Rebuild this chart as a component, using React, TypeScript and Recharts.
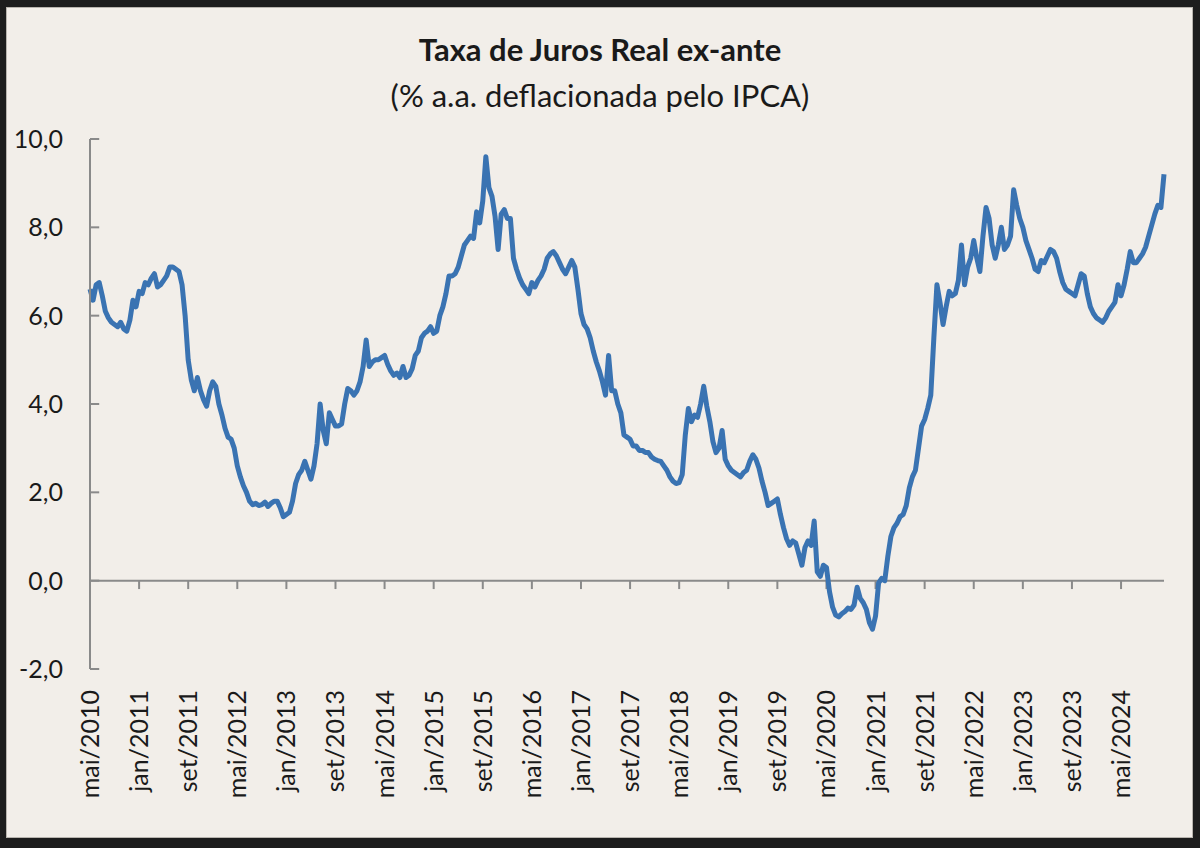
import { Line, LineChart, ReferenceLine, XAxis, YAxis } from "recharts";

// Ticks every 8 months starting in May 2010 (x = months since mai/2010)
const tickLabels = [
  "mai/2010", "jan/2011", "set/2011", "mai/2012", "jan/2013", "set/2013",
  "mai/2014", "jan/2015", "set/2015", "mai/2016", "jan/2017", "set/2017",
  "mai/2018", "jan/2019", "set/2019", "mai/2020", "jan/2021", "set/2021",
  "mai/2022", "jan/2023", "set/2023", "mai/2024",
];
const tickMonths = tickLabels.map((_, i) => i * 8);
const yTicks = [-2, 0, 2, 4, 6, 8, 10];

// Real ex-ante rate, % a.a., two readings per month
const rate2010 = [6.6, 6.35, 6.7, 6.75, 6.45, 6.1, 5.95, 5.85, 5.8, 5.75, 5.85, 5.7, 5.65, 5.9, 6.35, 6.2];
const rate2011 = [6.55, 6.5, 6.75, 6.7, 6.85, 6.95, 6.65, 6.7, 6.8, 6.9, 7.1, 7.1, 7.05, 7.0, 6.7, 6.0, 5.0, 4.55, 4.3, 4.6, 4.3, 4.1, 3.95, 4.3];
const rate2012 = [4.5, 4.4, 4.0, 3.75, 3.45, 3.25, 3.2, 3.0, 2.6, 2.35, 2.15, 2.0, 1.8, 1.72, 1.75, 1.7, 1.72, 1.78, 1.68, 1.75, 1.8, 1.8, 1.65, 1.45];
const rate2013 = [1.5, 1.55, 1.8, 2.2, 2.4, 2.5, 2.7, 2.5, 2.3, 2.6, 3.1, 4.0, 3.4, 3.1, 3.8, 3.65, 3.5, 3.5, 3.55, 4.0, 4.35, 4.3, 4.2, 4.3];
const rate2014 = [4.5, 4.85, 5.45, 4.85, 4.95, 5.0, 5.0, 5.05, 5.1, 4.9, 4.75, 4.65, 4.7, 4.6, 4.85, 4.6, 4.65, 4.8, 5.1, 5.2, 5.5, 5.6, 5.65, 5.75];
const rate2015 = [5.6, 5.65, 6.0, 6.2, 6.5, 6.9, 6.9, 6.95, 7.1, 7.35, 7.6, 7.7, 7.8, 7.75, 8.35, 8.1, 8.6, 9.6, 8.9, 8.7, 8.25, 7.5, 8.3, 8.4];
const rate2016 = [8.2, 8.2, 7.3, 7.05, 6.85, 6.7, 6.6, 6.5, 6.75, 6.65, 6.8, 6.9, 7.05, 7.3, 7.4, 7.45, 7.35, 7.2, 7.05, 6.95, 7.1, 7.25, 7.1, 6.6];
const rate2017 = [6.05, 5.8, 5.7, 5.5, 5.2, 4.95, 4.75, 4.5, 4.2, 5.1, 4.3, 4.3, 4.0, 3.8, 3.3, 3.25, 3.2, 3.05, 3.05, 2.95, 2.95, 2.9, 2.9, 2.8];
const rate2018 = [2.75, 2.72, 2.7, 2.6, 2.5, 2.35, 2.25, 2.2, 2.22, 2.4, 3.3, 3.9, 3.6, 3.75, 3.7, 4.0, 4.4, 3.95, 3.6, 3.15, 2.9, 3.0, 3.4, 2.75];
const rate2019 = [2.6, 2.5, 2.45, 2.4, 2.35, 2.45, 2.5, 2.7, 2.85, 2.75, 2.55, 2.25, 2.0, 1.7, 1.75, 1.8, 1.85, 1.5, 1.2, 0.95, 0.8, 0.9, 0.85, 0.6];
const rate2020 = [0.35, 0.75, 0.9, 0.8, 1.35, 0.2, 0.1, 0.35, 0.3, -0.25, -0.6, -0.78, -0.82, -0.75, -0.7, -0.62, -0.65, -0.55, -0.15, -0.4, -0.5, -0.65, -0.95, -1.1];
const rate2021 = [-0.8, -0.05, 0.05, 0.0, 0.55, 1.0, 1.2, 1.3, 1.45, 1.5, 1.7, 2.1, 2.35, 2.5, 3.0, 3.5, 3.65, 3.9, 4.2, 5.5, 6.7, 6.3, 5.8, 6.2];
const rate2022 = [6.55, 6.45, 6.5, 6.8, 7.6, 6.7, 7.1, 7.3, 7.7, 7.3, 7.0, 7.8, 8.45, 8.2, 7.6, 7.3, 7.6, 8.0, 7.5, 7.6, 7.8, 8.85, 8.5, 8.2];
const rate2023 = [8.0, 7.7, 7.5, 7.3, 7.05, 7.0, 7.25, 7.2, 7.35, 7.5, 7.45, 7.3, 7.0, 6.75, 6.6, 6.55, 6.5, 6.45, 6.7, 6.95, 6.9, 6.5, 6.2, 6.05];
const rate2024 = [5.95, 5.9, 5.85, 5.95, 6.1, 6.2, 6.3, 6.7, 6.45, 6.7, 7.05, 7.45, 7.2, 7.2, 7.3, 7.4, 7.55, 7.8, 8.05, 8.3, 8.5, 8.45, 9.2];

const data = [
  rate2010, rate2011, rate2012, rate2013, rate2014, rate2015, rate2016, rate2017,
  rate2018, rate2019, rate2020, rate2021, rate2022, rate2023, rate2024,
]
  .flat()
  .map((taxa, k) => ({ m: k / 2, taxa }));

const FONT = "Lato, 'Open Sans', sans-serif";
const AXIS = "#8a8a8a";
const INK = "#1a1a1a";

function MonthTick({ x, y, payload }: any) {
  const label = tickLabels[Math.round(payload.value / 8)];
  return (
    <text
      x={x}
      y={y}
      transform={`rotate(-90, ${x}, ${y})`}
      textAnchor="end"
      dy="0.36em"
      fontSize={25}
      fontFamily={FONT}
      fill={INK}
    >
      {label}
    </text>
  );
}

export default function App() {
  return (
    <div style={{ position: "absolute", left: 0, top: 0, width: 1200, height: 848, background: "#1d1d1d" }}>
      <div
        style={{
          position: "absolute",
          left: 6,
          top: 7,
          width: 1185,
          height: 829,
          background: "#F2EEE9",
          border: "1px solid #b8b4ae",
        }}
      />
      <div
        style={{
          position: "absolute",
          left: 0,
          width: 1200,
          top: 34,
          textAlign: "center",
          fontFamily: FONT,
          fontWeight: 700,
          fontSize: 31,
          lineHeight: "31px",
          color: INK,
        }}
      >
        Taxa de Juros Real ex-ante
      </div>
      <div
        style={{
          position: "absolute",
          left: 0,
          width: 1200,
          top: 80,
          textAlign: "center",
          fontFamily: FONT,
          fontSize: 31,
          lineHeight: "31px",
          color: INK,
        }}
      >
        (% a.a. deflacionada pelo IPCA)
      </div>
      <div style={{ position: "absolute", left: 0, top: 0 }}>
        <LineChart width={1200} height={848} data={data} margin={{ top: 139, right: 36, bottom: 0, left: 0 }}>
          <XAxis
            type="number"
            dataKey="m"
            domain={[0, 175]}
            ticks={tickMonths}
            interval={0}
            axisLine={false}
            tickLine={false}
            tickSize={0}
            tickMargin={21}
            height={179}
            tick={<MonthTick />}
          />
          <YAxis
            domain={[-2, 10]}
            ticks={yTicks}
            interval={0}
            width={90}
            axisLine={{ stroke: AXIS, strokeWidth: 2 }}
            tickLine={false}
            tickSize={0}
            tickMargin={27}
            tickFormatter={(v: number) => v.toFixed(1).replace(".", ",")}
            tick={{ fill: INK, fontSize: 25, fontFamily: FONT }}
          />
          <ReferenceLine y={0} stroke={AXIS} strokeWidth={2} />
          {yTicks.map((v) => (
            <ReferenceLine
              key={`y${v}`}
              segment={[{ x: 0, y: v }, { x: 1.5, y: v }]}
              stroke={AXIS}
              strokeWidth={2}
            />
          ))}
          {tickMonths.slice(1).map((m) => (
            <ReferenceLine
              key={`x${m}`}
              segment={[{ x: m, y: 0 }, { x: m, y: -0.19 }]}
              stroke={AXIS}
              strokeWidth={2}
            />
          ))}
          <Line
            type="linear"
            dataKey="taxa"
            stroke="#3A73B2"
            strokeWidth={5}
            strokeLinejoin="round"
            dot={false}
            activeDot={false}
            isAnimationActive={false}
          />
        </LineChart>
      </div>
    </div>
  );
}
